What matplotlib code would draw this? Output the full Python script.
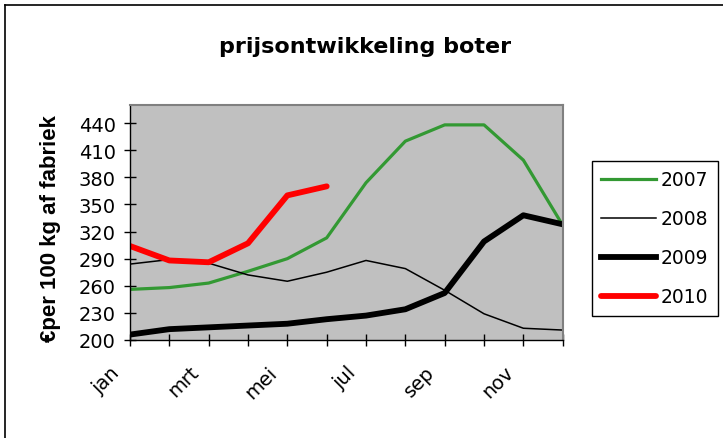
import matplotlib.pyplot as plt
from matplotlib.lines import Line2D
from matplotlib.transforms import ScaledTranslation

plt.rcParams['font.family'] = ['DejaVu Sans']

months = ['jan', 'feb', 'mrt', 'apr', 'mei', 'jun', 'jul', 'aug', 'sep', 'okt', 'nov', 'dec']
prijs_2007 = [256, 258, 263, 276, 290, 313, 374, 420, 438, 438, 399, 327]
prijs_2008 = [284, 289, 285, 272, 265, 275, 288, 279, 255, 229, 213, 211]
prijs_2009 = [206, 212, 214, 216, 218, 223, 227, 234, 252, 309, 338, 328]
prijs_2010 = [304, 288, 286, 307, 360, 370]

W, H = 723, 439
fig = plt.figure(figsize=(W / 100, H / 100), dpi=100)
ax = fig.add_axes([130 / W, 1 - 341 / H, (562.7 - 130) / W, (341 - 106) / H])
ax.set_facecolor('#C0C0C0')

x = list(range(len(months)))
ax.plot(x, prijs_2007, color='#339933', lw=2.3, label='2007')
ax.plot(x, prijs_2008, color='black', lw=1.1, label='2008')
ax.plot(x, prijs_2009, color='black', lw=4.2, label='2009')
ax.plot(x[:len(prijs_2010)], prijs_2010, color='#FF0000', lw=4.2,
        solid_capstyle='round', label='2010')

ax.set_xlim(0, 11)
ax.set_ylim(200, 460)
ax.set_yticks(range(200, 441, 30))
ax.set_xticks(x)
ax.set_xticklabels([m if i % 2 == 0 else '' for i, m in enumerate(months)],
                   rotation=45, ha='right', va='center', rotation_mode='anchor',
                   fontsize=14)
ax.tick_params(axis='x', direction='inout', length=8.5, width=1, pad=0)
ax.tick_params(axis='y', direction='inout', length=8.5, width=1, labelsize=14, pad=6)
shift = ScaledTranslation(-0.13, -0.23, fig.dpi_scale_trans)
for lab in ax.get_xticklabels():
    lab.set_transform(lab.get_transform() + shift)

for s in ['top', 'right']:
    ax.spines[s].set_color('#808080')
    ax.spines[s].set_linewidth(1.5)
for s in ['left', 'bottom']:
    ax.spines[s].set_color('black')
    ax.spines[s].set_linewidth(1)

fig.text(51 / W, 1 - 229 / H, '€per 100 kg af fabriek', rotation=90,
         ha='center', va='center', fontsize=16, fontweight='bold',
         family='Liberation Sans')

fig.text(365 / W, 1 - 47 / H, 'prijsontwikkeling boter', ha='center', va='center',
         fontsize=16, fontweight='bold')

leg = fig.legend(loc='upper left', bbox_to_anchor=(591.7 / W, 1 - 161.7 / H),
                 fontsize=13.5, handlelength=2.95, handletextpad=0.25,
                 labelspacing=1.07, borderpad=0.5, borderaxespad=0,
                 fancybox=False, framealpha=1, edgecolor='black')
leg.get_frame().set_linewidth(1)

# outer chart border (left and top visible)
fig.add_artist(Line2D([5 / W, 5 / W], [0, 1 - 6 / H], color='black', lw=1.2,
                      transform=fig.transFigure))
fig.add_artist(Line2D([5 / W, 1], [1 - 6 / H, 1 - 6 / H], color='black', lw=1.2,
                      transform=fig.transFigure))

fig.savefig('out.png', dpi=100)
